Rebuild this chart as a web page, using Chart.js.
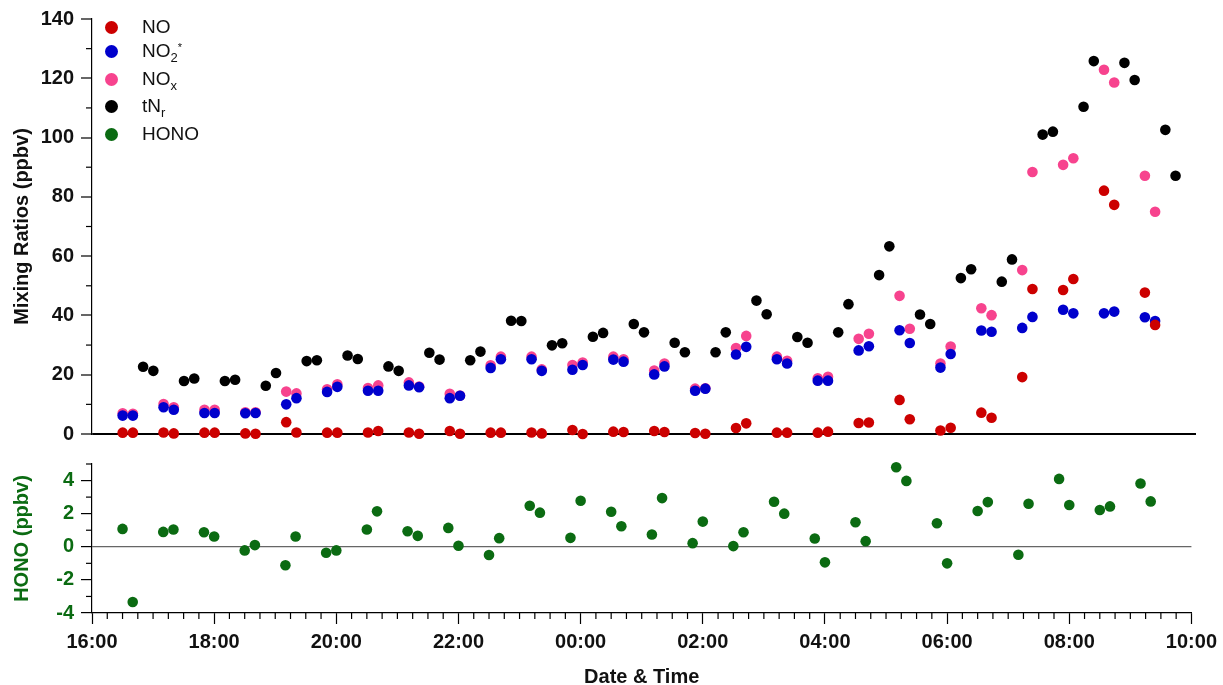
<!DOCTYPE html>
<html lang="en">
<head>
    <meta charset="UTF-8">
    <title>Mixing Ratios and HONO</title>
    <script src="https://cdn.jsdelivr.net/npm/chart.js"></script>
    <style>
        body { margin: 0; background: #fff; overflow: hidden; font-family: "Liberation Sans", Arial, sans-serif; }
        #wrap { position: relative; width: 1223px; height: 685px; overflow: hidden; }
        #topChart { position: absolute; left: 0; top: 0; }
        #bottomChart { position: absolute; left: 0; top: 445px; }
        .legend-row { position: absolute; left: 105px; height: 24px; display: flex; align-items: center; font-size: 19px; color: #111; }
        .legend-row .dot { width: 13px; height: 13px; border-radius: 50%; margin-right: 24px; flex: none; }
        .legend-row .txt { white-space: nowrap; line-height: 24px; }
        .legend-row sub { font-size: 13px; vertical-align: -5px; line-height: 0; }
        .legend-row sup { font-size: 11px; vertical-align: 6px; line-height: 0; }
    </style>
</head>
<body>
<div id="wrap">
    <canvas id="topChart" width="1223" height="453"></canvas>
    <canvas id="bottomChart" width="1223" height="242"></canvas>

    <!-- legend -->
    <div class="legend-row" style="top:15px"><span class="dot" style="background:#cc0000"></span><span class="txt">NO</span></div>
    <div class="legend-row" style="top:39px"><span class="dot" style="background:#0000cc"></span><span class="txt">NO<sub>2</sub><sup>*</sup></span></div>
    <div class="legend-row" style="top:67px"><span class="dot" style="background:#f7438e"></span><span class="txt">NO<sub>x</sub></span></div>
    <div class="legend-row" style="top:94px"><span class="dot" style="background:#000000"></span><span class="txt">tN<sub>r</sub></span></div>
    <div class="legend-row" style="top:122px"><span class="dot" style="background:#0b6b12"></span><span class="txt">HONO</span></div>
</div>

<script>
    // sample times for NO, NO2*, NOx and HONO
    const timesNO = [
        '16:30','16:40','17:10','17:20','17:50','18:00','18:30','18:40','19:10','19:20',
        '19:50','20:00','20:30','20:40','21:10','21:20','21:50','22:00','22:30','22:40',
        '23:10','23:20','23:50','00:00','00:30','00:40','01:10','01:20','01:50','02:00',
        '02:30','02:40','03:10','03:20','03:50','04:00','04:30','04:40','05:10','05:20',
        '05:50','06:00','06:30','06:40','07:10','07:20','07:50','08:00','08:30','08:40',
        '09:10','09:20'
    ];
    // sample times for tNr
    const timesTNr = [
        '16:50','17:00','17:30','17:40','18:10','18:20','18:50','19:00','19:30','19:40',
        '20:10','20:20','20:50','21:00','21:30','21:40','22:10','22:20','22:50','23:00',
        '23:30','23:40','00:10','00:20','00:50','01:00','01:30','01:40','02:10','02:20',
        '02:50','03:00','03:30','03:40','04:10','04:20','04:50','05:00','05:30','05:40',
        '06:10','06:20','06:50','07:00','07:30','07:40','08:10','08:20','08:50','09:00',
        '09:30','09:40'
    ];

    const noData = [0.45, 0.45, 0.5, 0.2, 0.45, 0.45, 0.2, 0.1, 4.0, 0.5,
        0.45, 0.45, 0.5, 1.0, 0.5, 0.1, 1.0, 0.1, 0.45, 0.45,
        0.5, 0.2, 1.35, 0.0, 0.8, 0.7, 1.0, 0.7, 0.35, 0.1,
        2.0, 3.6, 0.45, 0.45, 0.45, 0.8, 3.7, 3.9, 11.5, 5.0,
        1.2, 2.1, 7.2, 5.5, 19.2, 48.9, 48.6, 52.3, 82.1, 77.3,
        47.7, 36.8];
    const no2Data = [6.2, 6.2, 9.0, 8.2, 7.1, 7.1, 7.0, 7.1, 10.0, 12.1,
        14.2, 15.9, 14.6, 14.6, 16.4, 15.8, 12.1, 12.9, 22.3, 25.2,
        25.2, 21.3, 21.7, 23.3, 25.1, 24.4, 20.1, 22.8, 14.6, 15.3,
        26.8, 29.4, 25.2, 23.8, 18.0, 18.0, 28.2, 29.6, 35.0, 30.7,
        22.4, 27.0, 34.9, 34.5, 35.8, 39.5, 41.9, 40.7, 40.7, 41.3,
        39.4, 38.1];
    const noxData = [7.0, 6.8, 10.1, 9.0, 8.2, 8.2, 7.3, 7.3, 14.3, 13.7,
        15.1, 16.8, 15.5, 16.4, 17.4, 16.0, 13.6, 13.0, 23.2, 26.1,
        26.1, 21.8, 23.3, 24.1, 26.1, 25.2, 21.4, 23.8, 15.3, 15.4,
        29.0, 33.1, 26.1, 24.7, 18.8, 19.3, 32.1, 33.8, 46.6, 35.5,
        23.8, 29.5, 42.4, 40.1, 55.3, 88.4, 90.8, 93.0, 122.9, 118.6,
        87.1, 75.0];
    const tnrData = [22.7, 21.3, 17.9, 18.7, 17.9, 18.3, 16.3, 20.6, 24.6, 24.9,
        26.5, 25.3, 22.8, 21.3, 27.4, 25.1, 24.9, 27.8, 38.2, 38.1,
        29.9, 30.6, 32.8, 34.1, 37.1, 34.3, 30.8, 27.6, 27.6, 34.3,
        45.0, 40.4, 32.7, 30.8, 34.3, 43.8, 53.6, 63.3, 40.3, 37.1,
        52.6, 55.6, 51.4, 58.9, 101.0, 102.0, 110.4, 125.8, 125.2, 119.4,
        102.6, 87.1];
    const honoData = [1.08, -3.34, 0.9, 1.04, 0.88, 0.62, -0.22, 0.1, -1.12, 0.62,
        -0.36, -0.22, 1.04, 2.14, 0.94, 0.66, 1.14, 0.06, -0.5, 0.52,
        2.48, 2.06, 0.54, 2.78, 2.12, 1.24, 0.74, 2.94, 0.22, 1.52,
        0.04, 0.88, 2.72, 2.0, 0.5, -0.94, 1.48, 0.34, 4.8, 3.98,
        1.42, -1.0, 2.16, 2.7, -0.48, 2.6, 4.1, 2.52, 2.22, 2.44,
        3.82, 2.74];

    const fontFamily = '"Liberation Sans", Arial, sans-serif';
    const green = '#0b6b12';

    // hours since 16:00
    function toHours(t) {
        let [h, m] = t.split(':').map(Number);
        if (h < 16) h += 24;
        return h - 16 + m / 60;
    }
    function points(times, vals) {
        return times.map((t, i) => ({ x: toHours(t), y: vals[i] }));
    }
    function ds(label, times, vals, color) {
        return {
            label: label,
            data: points(times, vals),
            backgroundColor: color,
            borderColor: color,
            pointRadius: 5.3,
            pointHoverRadius: 5.3,
            pointBorderWidth: 0,
            clip: false
        };
    }

    // small unlabelled ticks between the labelled ones
    const minorTicks = {
        id: 'minorTicks',
        afterDraw(chart, args, opts) {
            const ctx = chart.ctx;
            ctx.save();
            ctx.strokeStyle = '#000';
            ctx.lineWidth = 1.2;
            (opts.list || []).forEach(m => {
                const s = chart.scales[m.axis];
                m.values.forEach(v => {
                    const p = s.getPixelForValue(v);
                    ctx.beginPath();
                    if (m.axis === 'y') {
                        ctx.moveTo(s.right - 6, p);
                        ctx.lineTo(s.right, p);
                    } else {
                        ctx.moveTo(p, s.top);
                        ctx.lineTo(p, s.top + 6);
                    }
                    ctx.stroke();
                });
            });
            ctx.restore();
        }
    };

    const yMinorTop = [];
    for (let v = 10; v < 140; v += 20) yMinorTop.push(v);
    const yMinorBottom = [-3, -1, 1, 3, 5];
    const xMinor = [];
    for (let q = 1; q < 72; q++) { if (q % 8 !== 0) xMinor.push(q / 4); }

    // top panel
    new Chart(document.getElementById('topChart'), {
        type: 'scatter',
        data: {
            datasets: [
                ds('NO', timesNO, noData, '#cc0000'),
                ds('NO2*', timesNO, no2Data, '#0000cc'),
                ds('NOx', timesNO, noxData, '#f7438e'),
                ds('tNr', timesTNr, tnrData, '#000000')
            ]
        },
        options: {
            responsive: false,
            animation: false,
            layout: { padding: { left: 0, right: 27, top: 19, bottom: 16 } },
            plugins: {
                legend: { display: false },
                tooltip: { enabled: false },
                minorTicks: { list: [{ axis: 'y', values: yMinorTop }] }
            },
            scales: {
                x: { type: 'linear', min: 0, max: 18, display: false },
                y: {
                    min: 0, max: 140,
                    afterFit: s => { s.width = 92; },
                    ticks: { stepSize: 20, color: '#111', padding: 7, font: { family: fontFamily, size: 20, weight: 'bold' } },
                    grid: {
                        color: c => (c.tick && c.tick.value === 0) ? '#000' : 'rgba(0,0,0,0)',
                        lineWidth: 2,
                        tickColor: '#000',
                        tickLength: 11,
                        tickWidth: 1.2
                    },
                    border: { color: '#000', width: 1.2 },
                    title: {
                        display: true,
                        text: 'Mixing Ratios (ppbv)',
                        color: '#111',
                        padding: { top: 10, bottom: 0 },
                        font: { family: fontFamily, size: 20, weight: 'bold' }
                    }
                }
            }
        },
        plugins: [minorTicks]
    });

    // bottom panel
    new Chart(document.getElementById('bottomChart'), {
        type: 'scatter',
        data: {
            datasets: [ds('HONO', timesNO, honoData, green)]
        },
        options: {
            responsive: false,
            animation: false,
            layout: { padding: { left: 0, right: 27, top: 13, bottom: 0 } },
            plugins: {
                legend: { display: false },
                tooltip: { enabled: false },
                minorTicks: { list: [{ axis: 'y', values: yMinorBottom }, { axis: 'x', values: xMinor }] }
            },
            scales: {
                x: {
                    type: 'linear', min: 0, max: 18,
                    afterFit: s => { s.height = 74; },
                    ticks: {
                        stepSize: 2, autoSkip: false, maxRotation: 0, padding: 6, color: '#111',
                        font: { family: fontFamily, size: 20, weight: 'bold' },
                        callback: v => String((16 + v) % 24).padStart(2, '0') + ':00'
                    },
                    grid: { drawOnChartArea: false, tickColor: '#000', tickLength: 11, tickWidth: 1.2 },
                    border: { color: '#000', width: 1.2 },
                    title: {
                        display: true,
                        text: 'Date & Time',
                        color: '#111',
                        padding: { top: 0, bottom: 0 },
                        font: { family: fontFamily, size: 20, weight: 'bold', lineHeight: 1 }
                    }
                },
                y: {
                    min: -4, max: 5,
                    afterFit: s => { s.width = 92; },
                    ticks: { stepSize: 2, includeBounds: false, color: green, padding: 7, font: { family: fontFamily, size: 20, weight: 'bold' } },
                    grid: {
                        color: c => (c.tick && c.tick.value === 0) ? '#666' : 'rgba(0,0,0,0)',
                        lineWidth: 1.2,
                        tickColor: '#000',
                        tickLength: 11,
                        tickWidth: 1.2
                    },
                    border: { color: '#000', width: 1.2 },
                    title: {
                        display: true,
                        text: 'HONO (ppbv)',
                        color: green,
                        padding: { top: 10, bottom: 0 },
                        font: { family: fontFamily, size: 20, weight: 'bold' }
                    }
                }
            }
        },
        plugins: [minorTicks]
    });
</script>
</body>
</html>
